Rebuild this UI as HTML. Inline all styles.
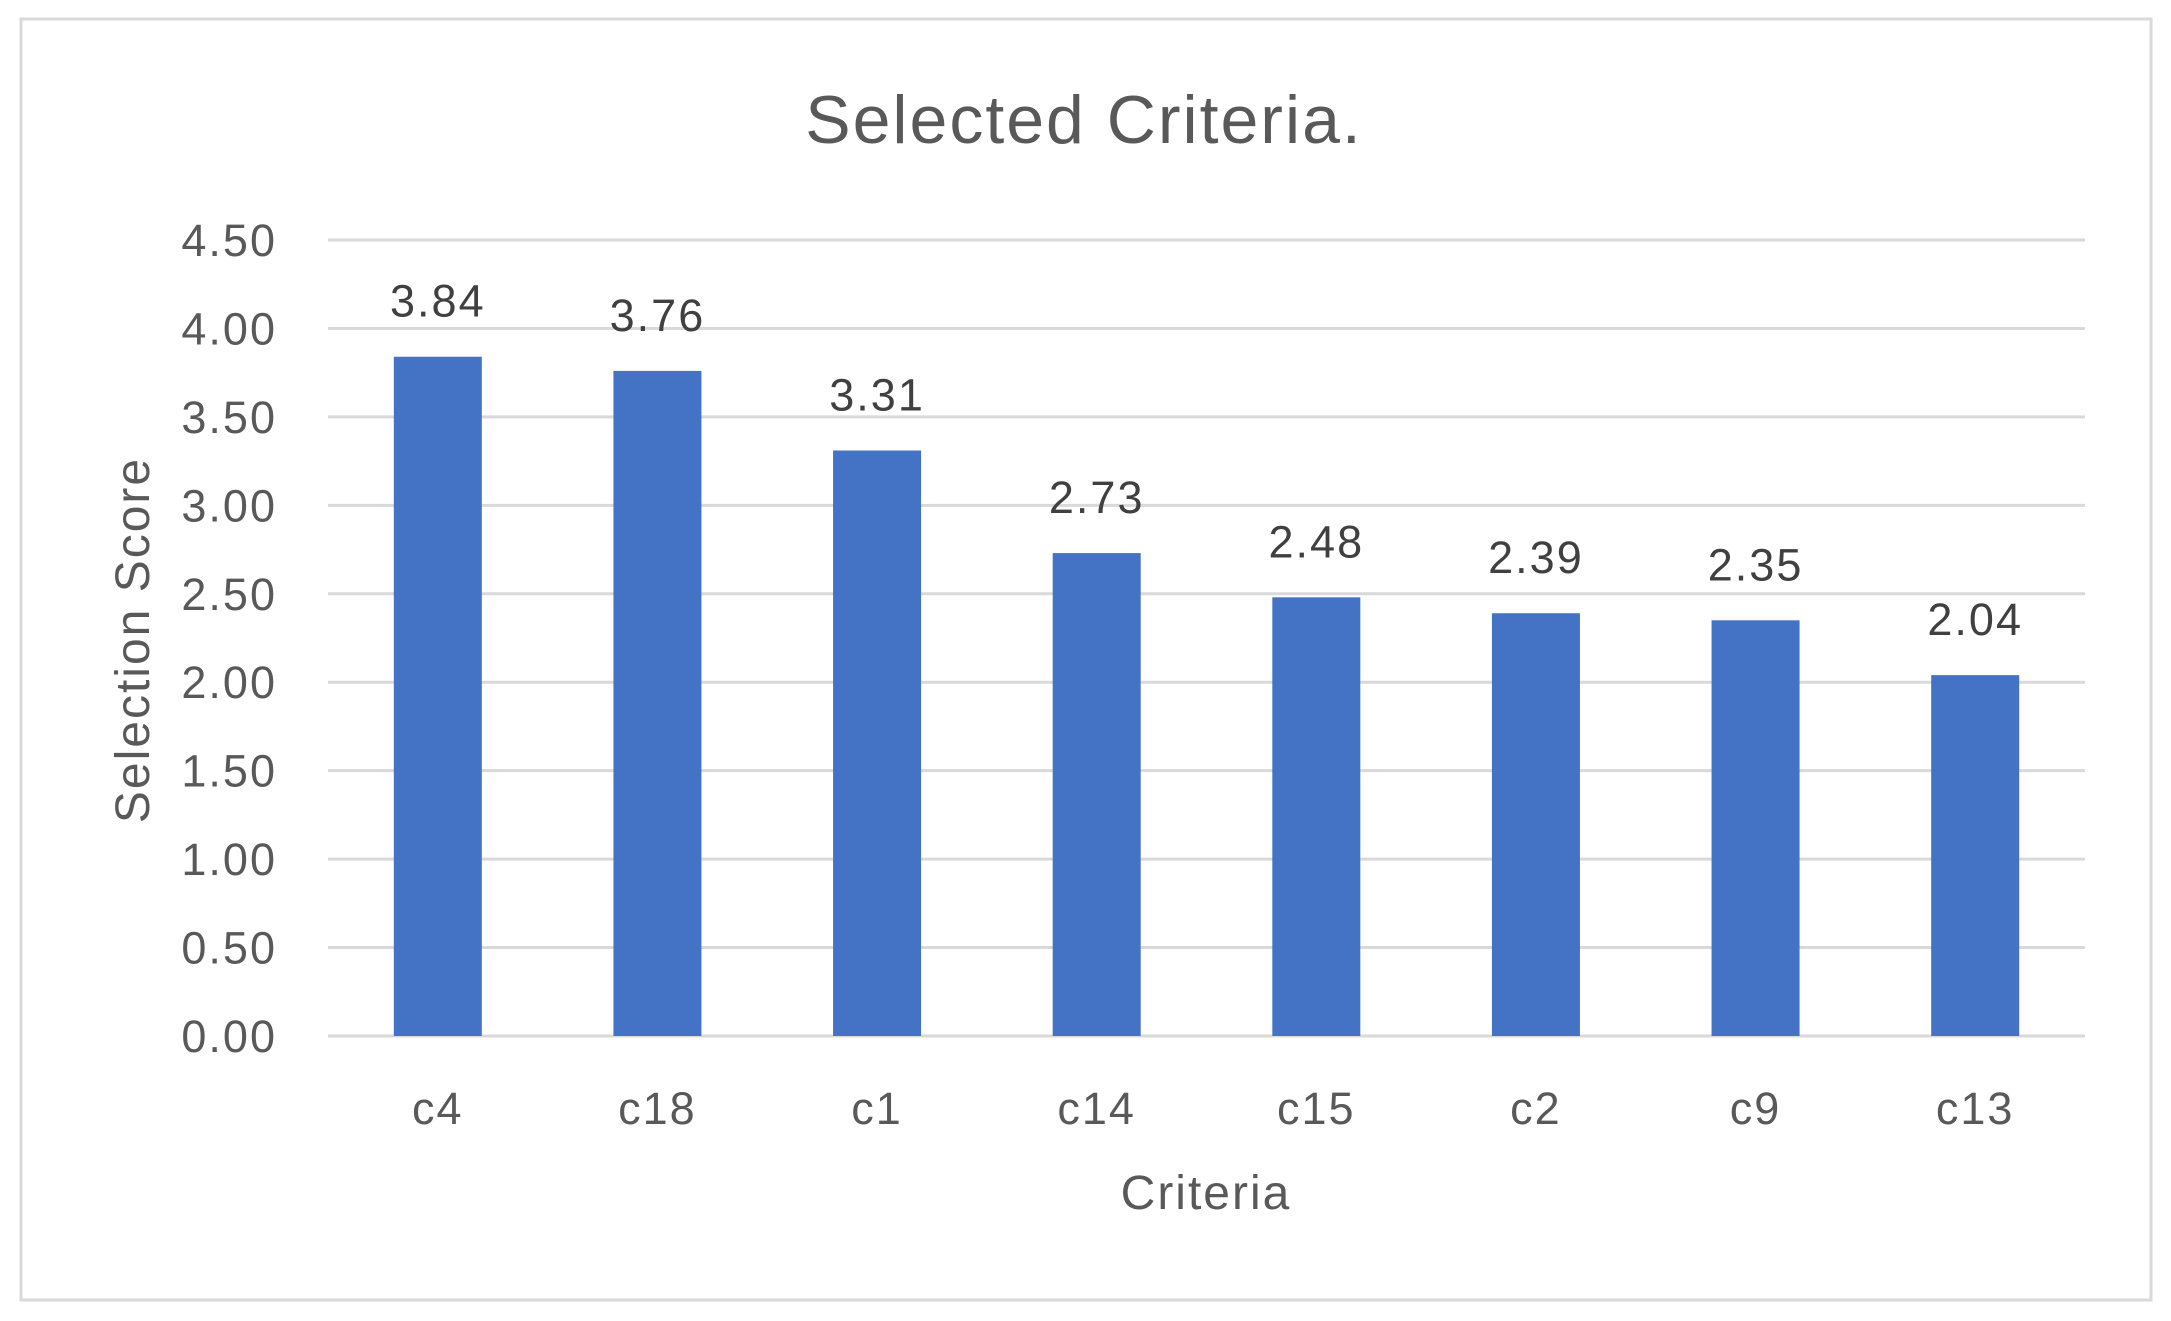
<!DOCTYPE html>
<html><head><meta charset="utf-8"><style>
html,body{margin:0;padding:0;background:#fff}
svg{display:block}
text{font-family:"Liberation Sans",sans-serif}
</style></head><body>
<svg id="chart" width="2171" height="1321" viewBox="0 0 2171 1321" xmlns="http://www.w3.org/2000/svg">
<rect x="21" y="19" width="2130" height="1281" fill="#fff" stroke="#d9d9d9" stroke-width="3"/>
<text x="1084" y="143" text-anchor="middle" font-size="68" letter-spacing="2" fill="#595959">Selected Criteria.</text>
<g id="grid"></g>
<g id="bars"></g>
<g id="labels"></g>
<text x="1206" y="1209" text-anchor="middle" font-size="48" letter-spacing="2" fill="#595959">Criteria</text>
<text transform="translate(149,640) rotate(-90)" text-anchor="middle" font-size="48" letter-spacing="2" fill="#595959">Selection Score</text>
</svg>
<script>
const categories = ["c4","c18","c1","c14","c15","c2","c9","c13"];
const values = [3.84,3.76,3.31,2.73,2.48,2.39,2.35,2.04];
const valueLabels = ["3.84","3.76","3.31","2.73","2.48","2.39","2.35","2.04"];
const ticks = [0,0.5,1,1.5,2,2.5,3,3.5,4,4.5];
const tickLabels = ["0.00","0.50","1.00","1.50","2.00","2.50","3.00","3.50","4.00","4.50"];

const NS="http://www.w3.org/2000/svg";
const L=328,R=2085,Y0=1036,YT=240,YMAX=4.5;
const band=(R-L)/categories.length;
const y=v=>Y0-(Y0-YT)*v/YMAX;
const x=i=>L+band*(i+0.5);
function mk(tag,attrs){const e=document.createElementNS(NS,tag);for(const k in attrs)e.setAttribute(k,attrs[k]);return e;}
const grid=document.getElementById('grid'),bars=document.getElementById('bars'),labels=document.getElementById('labels');
ticks.forEach((t,i)=>{
  const ln=mk('line',{x1:L,x2:R,y1:y(t),y2:y(t),stroke:'#d9d9d9','stroke-width':3});
  
  
  grid.appendChild(ln);
  const tx=mk('text',{x:277,y:y(t)+16,'text-anchor':'end','font-size':45,'letter-spacing':2,fill:'#595959'});
  tx.textContent=tickLabels[i];
  
  
  labels.appendChild(tx);
});
const bw=88;
categories.forEach((c,i)=>{
  const top=y(values[i]);
  const r=mk('rect',{x:x(i)-bw/2,y:top,width:bw,height:Y0-top,fill:'#4472c4'});
  
  
  bars.appendChild(r);
  const vl=mk('text',{x:x(i),y:top-40,'text-anchor':'middle','font-size':45,'letter-spacing':2,fill:'#404040'});
  vl.textContent=valueLabels[i];
  
  
  labels.appendChild(vl);
  const xl=mk('text',{x:x(i),y:1124,'text-anchor':'middle','font-size':45,'letter-spacing':2,fill:'#595959'});
  xl.textContent=c;
  
  
  labels.appendChild(xl);
});
</script>
</body></html>
